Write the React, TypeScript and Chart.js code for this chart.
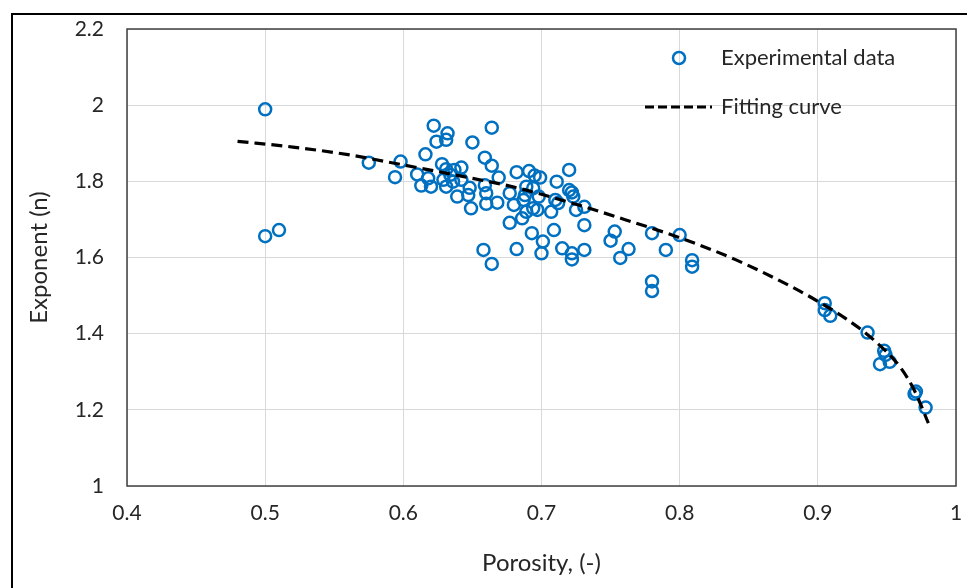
import React, { useEffect, useRef } from "react";
import { Chart, registerables } from "chart.js";

Chart.register(...registerables);

// ---- Data ----
const porosity = [
  0.5, 0.5, 0.51, 0.575, 0.594, 0.598, 0.61, 0.613, 0.616, 0.618, 0.62, 0.622, 0.624,
  0.628, 0.629, 0.631, 0.632, 0.631, 0.634, 0.636, 0.637, 0.639, 0.642, 0.642, 0.648,
  0.649, 0.65, 0.659, 0.659, 0.66, 0.66, 0.658, 0.664, 0.664, 0.664, 0.669, 0.668,
  0.677, 0.677, 0.68, 0.682, 0.682, 0.686, 0.687, 0.688, 0.689, 0.689, 0.691, 0.693,
  0.694, 0.695, 0.694, 0.697, 0.698, 0.699, 0.7, 0.701, 0.707, 0.709, 0.71, 0.711,
  0.712, 0.715, 0.72, 0.72, 0.722, 0.723, 0.722, 0.722, 0.725, 0.731, 0.731, 0.731,
  0.75, 0.753, 0.757, 0.763, 0.78, 0.78, 0.78, 0.79, 0.8, 0.809, 0.809,
  0.905, 0.905, 0.909, 0.936, 0.948, 0.949, 0.945, 0.952, 0.971, 0.97, 0.978,
  0.631, 0.647,
];
const exponent = [
  1.989, 1.656, 1.672, 1.849, 1.811, 1.852, 1.818, 1.789, 1.871, 1.808, 1.786, 1.946, 1.904,
  1.845, 1.804, 1.909, 1.926, 1.832, 1.817, 1.799, 1.83, 1.76, 1.836, 1.804, 1.783,
  1.729, 1.902, 1.862, 1.79, 1.741, 1.769, 1.62, 1.841, 1.941, 1.583, 1.81, 1.744,
  1.769, 1.691, 1.738, 1.824, 1.622, 1.703, 1.751, 1.764, 1.72, 1.786, 1.827, 1.664,
  1.782, 1.815, 1.729, 1.725, 1.76, 1.81, 1.611, 1.642, 1.72, 1.672, 1.751, 1.799,
  1.743, 1.624, 1.83, 1.777, 1.771, 1.76, 1.611, 1.595, 1.725, 1.733, 1.685, 1.62,
  1.644, 1.668, 1.599, 1.622, 1.664, 1.537, 1.512, 1.62, 1.659, 1.593, 1.576,
  1.48, 1.462, 1.447, 1.403, 1.355, 1.344, 1.32, 1.326, 1.248, 1.242, 1.206,
  1.786, 1.764,
];
const fitPorosity = [0.48, 0.52, 0.56, 0.6, 0.64, 0.68, 0.72, 0.76, 0.8, 0.84, 0.88, 0.9, 0.92, 0.94, 0.96, 0.97, 0.98];
const fitExponent = [1.905, 1.89, 1.87, 1.843, 1.815, 1.785, 1.745, 1.7, 1.652, 1.595, 1.525, 1.485, 1.44, 1.385, 1.31, 1.25, 1.165];

const xTickLabels = ["0.4", "0.5", "0.6", "0.7", "0.8", "0.9", "1"];
const yTickLabels = ["1", "1.2", "1.4", "1.6", "1.8", "2", "2.2"];
const seriesNames = ["Experimental data", "Fitting curve"];
const xTitle = "Porosity, (-)";
const yTitle = "Exponent (n)";

const FONT = "Lato, 'Open Sans', sans-serif";
const TEXT = "#262626";
const BLUE = "#0070C0";

const framePlugin = {
  id: "frameAndLegend",
  afterDraw(chart: any) {
    const ctx = chart.ctx as CanvasRenderingContext2D;
    const a = chart.chartArea;
    ctx.save();
    // plot area border
    ctx.strokeStyle = "#404040";
    ctx.lineWidth = 1.5;
    ctx.strokeRect(a.left, a.top, a.right - a.left, a.bottom - a.top);
    // outer frame (left & top visible)
    ctx.strokeStyle = "#000000";
    ctx.lineWidth = 2;
    ctx.beginPath();
    ctx.moveTo(12, chart.height);
    ctx.lineTo(12, 14);
    ctx.lineTo(chart.width, 14);
    ctx.stroke();
    // legend
    const ds = chart.data.datasets;
    ctx.font = `22px ${FONT}`;
    ctx.fillStyle = TEXT;
    ctx.textBaseline = "middle";
    ctx.textAlign = "left";
    ctx.strokeStyle = BLUE;
    ctx.lineWidth = 2.5;
    ctx.beginPath();
    ctx.arc(679, 58, 6, 0, Math.PI * 2);
    ctx.stroke();
    ctx.fillText(ds[1].label, 721, 58);
    ctx.strokeStyle = "#000000";
    ctx.lineWidth = 3;
    ctx.setLineDash([9, 4]);
    ctx.beginPath();
    ctx.moveTo(645, 107);
    ctx.lineTo(712, 107);
    ctx.stroke();
    ctx.setLineDash([]);
    ctx.fillText(ds[0].label, 721, 107);
    ctx.restore();
  },
};

export default function App() {
  const ref = useRef<HTMLCanvasElement | null>(null);

  useEffect(() => {
    if (!ref.current) return;
    const scatterPts = porosity.map((x, i) => ({ x, y: exponent[i] }));
    const fitPts = fitPorosity.map((x, i) => ({ x, y: fitExponent[i] }));
    const chart = new Chart(ref.current, {
      type: "scatter",
      data: {
        datasets: [
          {
            label: seriesNames[1],
            data: fitPts,
            showLine: true,
            borderColor: "#000000",
            borderWidth: 3.2,
            borderDash: [11, 6],
            pointRadius: 0,
            cubicInterpolationMode: "monotone",
            fill: false,
          } as any,
          {
            label: seriesNames[0],
            data: scatterPts,
            pointStyle: "circle",
            pointRadius: 6,
            pointBorderWidth: 2.5,
            borderColor: BLUE,
            pointBorderColor: BLUE,
            backgroundColor: "rgba(0,0,0,0)",
            pointBackgroundColor: "rgba(0,0,0,0)",
          } as any,
        ],
      },
      options: {
        animation: false,
        responsive: false,
        devicePixelRatio: 1,
        layout: { padding: { left: 0, top: 29, right: 11, bottom: 0 } },
        plugins: { legend: { display: false }, tooltip: { enabled: false } },
        scales: {
          x: {
            type: "linear",
            min: 0.4,
            max: 1,
            afterFit: (s: any) => {
              s.height = 102;
              s.paddingLeft = 0;
              s.paddingRight = 0;
            },
            ticks: {
              stepSize: 0.1,
              padding: 15,
              color: TEXT,
              font: { family: FONT, size: 21 },
              callback: (_v: any, i: number) => xTickLabels[i],
            },
            grid: { color: "#d9d9d9", lineWidth: 1, drawTicks: false },
            border: { display: false },
            title: {
              display: true,
              text: xTitle,
              color: TEXT,
              font: { family: FONT, size: 24 },
              padding: { top: 0, bottom: 10 },
            },
          },
          y: {
            type: "linear",
            min: 1,
            max: 2.2,
            afterFit: (s: any) => {
              s.width = 127;
              s.paddingTop = 0;
              s.paddingBottom = 0;
            },
            ticks: {
              stepSize: 0.2,
              padding: 23,
              color: TEXT,
              font: { family: FONT, size: 21 },
              callback: (_v: any, i: number) => yTickLabels[i],
            },
            grid: { color: "#d9d9d9", lineWidth: 1, drawTicks: false },
            border: { display: false },
            title: {
              display: true,
              text: yTitle,
              color: TEXT,
              font: { family: FONT, size: 24 },
              padding: { top: 25, bottom: 0 },
            },
          },
        },
      },
      plugins: [framePlugin],
    });
    return () => chart.destroy();
  }, []);

  return (
    <div style={{ position: "absolute", left: 0, top: 0, width: 967, height: 588, background: "#fff" }}>
      <canvas ref={ref} width={967} height={588} />
    </div>
  );
}
